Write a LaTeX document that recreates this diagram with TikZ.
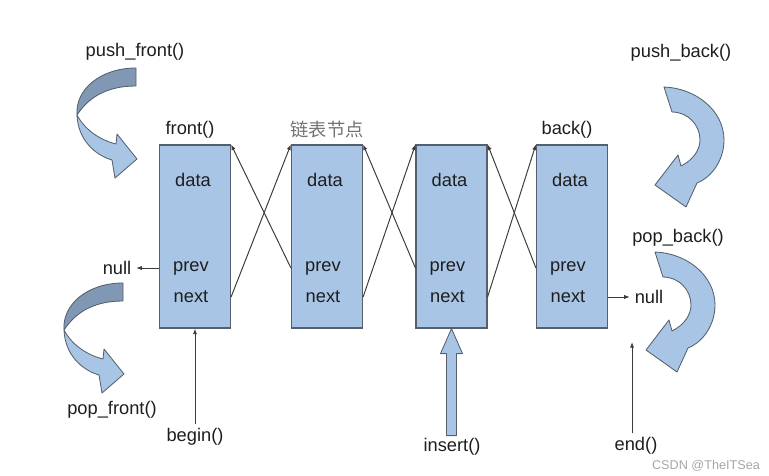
\documentclass[tikz,border=0pt]{standalone}
\usepackage{fontspec}
\setmainfont{Liberation Sans}
\newfontfamily\cjkfont{Noto Sans CJK SC}
\usetikzlibrary{arrows.meta,calc}
\definecolor{nodeblue}{RGB}{168,197,230}
\definecolor{shadeblue}{RGB}{128,152,180}
\definecolor{edgegray}{RGB}{85,95,110}
\definecolor{linegray}{RGB}{60,60,60}
\definecolor{txt}{RGB}{30,30,30}
\begin{document}
\begin{tikzpicture}[x=0.025cm, y=-0.025cm, font=\fontsize{13}{15}\selectfont, text=txt,
  box/.style={draw=edgegray, fill=nodeblue, line width=0.8pt, minimum width=1.775cm, minimum height=4.575cm, inner sep=0pt},
  ptr/.style={-{Latex[length=4pt,width=3pt]}, draw=linegray, line width=0.7pt},
  turn/.style={draw=edgegray, fill=nodeblue, line width=0.6pt, line join=round},
  frontturn/.pic={
    \draw[turn, fill=shadeblue] (0,0) .. controls (-36,0) and (-61,22) .. (-59,47)
      .. controls (-46,27) and (-26,18) .. (0,18) -- cycle;
    \draw[turn] (-59,47) .. controls (-58,72) and (-41,87) .. (-24,92) -- (-21,110) -- (1,91)
      -- (-19,66) -- (-20,76) .. controls (-36,72) and (-51,62) .. (-59,47) -- cycle;
  },
  backturn/.pic={
    \draw[turn] (0,0) .. controls (31,1) and (60,23) .. (60,53) .. controls (60,73) and (48,90) .. (33,96)
      -- (22,120) -- (-9,98) -- (14,68) -- (17,79) .. controls (29,73) and (36,63) .. (36,53)
      .. controls (36,38) and (24,25) .. (8,25) -- cycle;
  }]
\useasboundingbox (0,0) rectangle (769,475);

% list nodes
\node[box] (b1) at (195,236.5) {};
\node[box] (b2) at (327,236.5) {};
\node[box] (b3) at (451.5,236.5) {};
\node[box] (b4) at (572,236.5) {};
\foreach \i/\x in {1/195,2/327,3/451.5,4/572} {
  \node (d\i) at (\x-2,180) {data};
  \node (p\i) at (\x-4,268) {prev};
  \node (n\i) at (\x-4,297) {next};
}

% next / prev links
\foreach \i/\j in {1/2,2/3,3/4} {
  \draw[ptr] (n\i -| b\i.east) -- (b\j.north west);
  \draw[ptr] (p\j -| b\j.west) -- (b\i.north east);
}

\node (front) at (190,130) {front()};
\node[font=\fontsize{13}{15}\selectfont\cjkfont, text=gray!90!black] (lbl) at (327,130) {链表节点};
\node (back) at (567,130) {back()};

% null ends
\node (nullL) at (117,268) {null};
\draw[ptr] (p1 -| b1.west) -- (nullL.east);
\node (nullR) at (649,297) {null};
\draw[ptr] (n4 -| b4.east) -- (nullR.west);

% iterators
\node (beginl) at (195,437) {begin()};
\draw[ptr] (beginl.north) -- (b1.south);
\node (insertl) at (452,447) {insert()};
\draw[turn] (b3.south) -- ++(11,25) -- ++(-6,0) -- ++(0,82) -- ++(-10,0) -- ++(0,-82) -- ++(-6,0) -- cycle;
\node (endl) at (636,446) {end()};
\coordinate (endtop) at (632,342);
\draw[ptr] (endtop |- endl.north) -- (endtop);

% push / pop
\pic at (136,68) {frontturn};
\node (pushf) at (135,52) {push\_front()};
\pic at (123,283) {frontturn};
\node (popf) at (112,410) {pop\_front()};
\pic at (664,87) {backturn};
\node (pushb) at (681,53) {push\_back()};
\pic at (655,252) {backturn};
\node (popb) at (678,238) {pop\_back()};

\node[text=gray!70, font=\fontsize{9}{11}\selectfont, inner sep=1pt] (mark) at (706,466) {CSDN @TheITSea};
\end{tikzpicture}
\end{document}
